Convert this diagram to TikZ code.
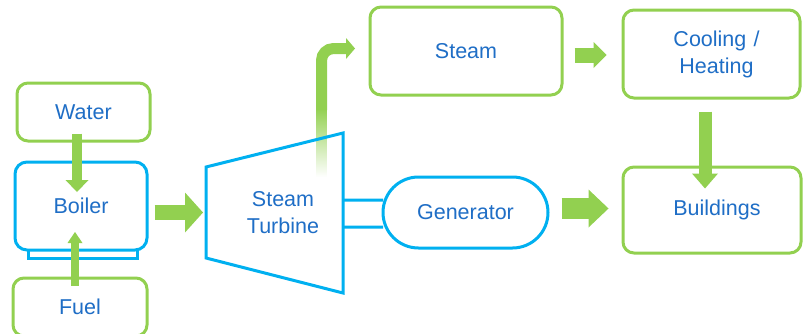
\documentclass[tikz,border=0pt]{standalone}
\usepackage{fontspec}
\setmainfont{Liberation Sans}
\usetikzlibrary{arrows.meta,calc,fadings,shapes.misc}

\definecolor{leaf}{HTML}{92D050}
\definecolor{sky}{HTML}{00B0F0}
\definecolor{ink}{HTML}{1F6EC6}

\tikzfading[name=fadedown, top color=transparent!0, bottom color=transparent!100]

\tikzset{
  label font/.style={font=\fontsize{21.5}{27}\selectfont, text=ink, align=center},
  greenbox/.style={draw=leaf, line width=3pt, rounded corners=11pt, fill=white,
    label font, inner sep=0pt},
  bluebox/.style={draw=sky, line width=3pt, rounded corners=12pt, fill=white,
    label font, inner sep=0pt},
  flowarrow/.style args={#1/#2/#3}{draw=leaf, line width=#1,
    -{Triangle[width=#2, length=#3, line width=0pt]}},
}

\begin{document}
\begin{tikzpicture}[x=1pt, y=-1pt]
  \useasboundingbox (0,0) rectangle (803,333);

  % input boxes
  \node[greenbox, minimum width=133pt, minimum height=58pt] (water) at (83.5,112) {Water};
  \node[greenbox, minimum width=134pt, minimum height=58pt] (fuel) at (80,307) {Fuel};

  % boiler with its base plate
  \node[draw=sky, line width=3pt, fill=white, minimum width=109pt, minimum height=10pt,
        inner sep=0pt] (plate) at (82.5,253.5) {};
  \node[bluebox, minimum width=132pt, minimum height=88pt] (boiler) at (81,206) {Boiler};

  % output boxes
  \node[greenbox, minimum width=192pt, minimum height=88pt] (steam) at (466,51) {Steam};
  \node[greenbox, minimum width=177pt, minimum height=88pt, text width=177pt] (cooling) at (711.5,54)
    {\hspace*{10pt}Cooling /\\\hspace*{10pt}Heating};
  \node[greenbox, minimum width=178pt, minimum height=86pt, text width=178pt] (buildings) at (712,210)
    {\hspace*{10pt}Buildings};

  % steam take-off from the turbine (fades out towards the turbine)
  \coordinate (takeoff) at (321.5,110);
  \coordinate (steamin) at (355,48.5);
  \fill[leaf, path fading=fadedown] (316,108) rectangle (327,177);
  \draw[flowarrow=11pt/21pt/9pt, rounded corners=12pt] (takeoff) |- (steamin);

  % steam turbine
  \coordinate (t1) at (206,167);
  \coordinate (t2) at (343,133);
  \coordinate (t3) at (343,293);
  \coordinate (t4) at (206,258);
  \draw[sky, line width=3pt, line join=miter] (t1) -- (t2) -- (t3) -- (t4) -- cycle;
  \node[label font] (turbine) at (283,213) {Steam\\Turbine};

  % generator and its shaft
  \node[draw=sky, line width=3pt, fill=white, rounded rectangle, minimum width=165pt,
        minimum height=71pt, inner sep=0pt, label font] (generator) at (465.5,212.5) {Generator};
  \draw[sky, line width=3pt] ($(t2)!0.419!(t3)$) -- ($(generator.west)+(1.5,-12.5)$);
  \draw[sky, line width=3pt] ($(t2)!0.588!(t3)$) -- ($(generator.west)+(1.5,14.5)$);

  % flows
  \draw[flowarrow=10pt/23pt/12pt] ($(water.south)+(-6.5,-9)$) -- ($(boiler.center)+(-4,-14)$);
  \draw[flowarrow=8pt/15pt/11pt] ($(fuel.north)+(-5,9)$) -- ($(boiler.center)+(-6,26)$);
  \draw[flowarrow=15pt/40pt/18pt] ($(boiler.east)+(6,6.5)$) -- ($(t1)!0.5!(t4)+(-3,0)$);
  \draw[flowarrow=21pt/38pt/20pt] ($(generator.east)+(12,-4)$) -- ($(buildings.west)+(-13,-1.5)$);
  \draw[flowarrow=15pt/26pt/13pt] ($(steam.east)+(11,4)$) -- ($(cooling.west)+(-15,1)$);
  \draw[flowarrow=13pt/26pt/15pt] ($(cooling.south)+(-6.5,12)$) -- ($(buildings.north)+(-7,23)$);
\end{tikzpicture}
\end{document}
